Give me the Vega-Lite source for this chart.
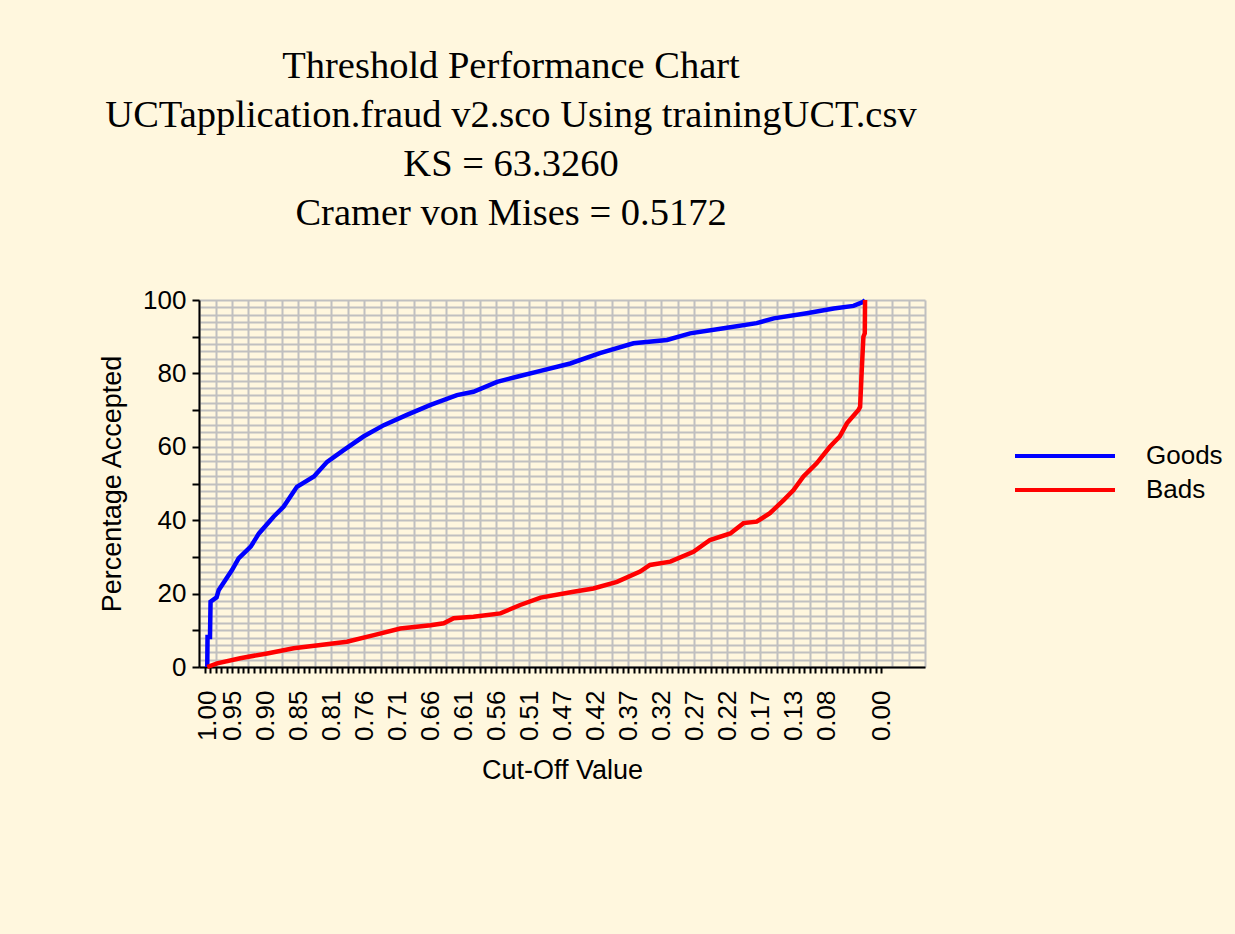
{
  "$schema": "https://vega.github.io/schema/vega-lite/v6.json",
  "width": 726,
  "height": 367,
  "autosize": {"type": "none"},
  "padding": {"left": 199, "top": 300, "right": 310, "bottom": 267},
  "background": "#FFF7DE",
  "config": {
    "view": {"stroke": null, "fill": "#FFF7DE"},
    "axis": {"labelFont": "Liberation Sans", "titleFont": "Liberation Sans", "labelColor": "#000", "titleColor": "#000", "titleFontWeight": "normal", "labelOverlap": false, "labelFlush": false, "domainColor": "#000", "tickColor": "#000"}
  },
  "title": {
    "text": ["Threshold Performance Chart", "UCTapplication.fraud v2.sco Using trainingUCT.csv", "KS = 63.3260", "Cramer von Mises = 0.5172"],
    "font": "Liberation Serif",
    "fontSize": 38.5,
    "fontWeight": "normal",
    "lineHeight": 49,
    "color": "#000",
    "anchor": "middle",
    "dx": -51,
    "offset": 54
  },
  "data": {
    "values": [
      {"u": 1.5, "pct": 0, "series": "Goods"},
      {"u": 1.55, "pct": 8.2, "series": "Goods"},
      {"u": 2.0, "pct": 8.2, "series": "Goods"},
      {"u": 2.1, "pct": 17.8, "series": "Goods"},
      {"u": 3.2, "pct": 19, "series": "Goods"},
      {"u": 3.6, "pct": 21, "series": "Goods"},
      {"u": 4.8, "pct": 23.7, "series": "Goods"},
      {"u": 6.0, "pct": 26.4, "series": "Goods"},
      {"u": 7.2, "pct": 29.6, "series": "Goods"},
      {"u": 9.4, "pct": 32.8, "series": "Goods"},
      {"u": 10.9, "pct": 36.4, "series": "Goods"},
      {"u": 13.6, "pct": 41, "series": "Goods"},
      {"u": 15.4, "pct": 43.7, "series": "Goods"},
      {"u": 17.8, "pct": 49.1, "series": "Goods"},
      {"u": 20.9, "pct": 51.9, "series": "Goods"},
      {"u": 23.3, "pct": 55.9, "series": "Goods"},
      {"u": 26.3, "pct": 59.1, "series": "Goods"},
      {"u": 29.9, "pct": 62.8, "series": "Goods"},
      {"u": 33.6, "pct": 65.9, "series": "Goods"},
      {"u": 37.8, "pct": 68.7, "series": "Goods"},
      {"u": 42.1, "pct": 71.4, "series": "Goods"},
      {"u": 46.9, "pct": 74.1, "series": "Goods"},
      {"u": 49.9, "pct": 75, "series": "Goods"},
      {"u": 54.2, "pct": 77.7, "series": "Goods"},
      {"u": 57.8, "pct": 79.1, "series": "Goods"},
      {"u": 62.1, "pct": 80.7, "series": "Goods"},
      {"u": 67.5, "pct": 82.7, "series": "Goods"},
      {"u": 72.9, "pct": 85.5, "series": "Goods"},
      {"u": 79.0, "pct": 88.2, "series": "Goods"},
      {"u": 85.1, "pct": 89.1, "series": "Goods"},
      {"u": 89.3, "pct": 90.9, "series": "Goods"},
      {"u": 95.4, "pct": 92.3, "series": "Goods"},
      {"u": 101.4, "pct": 93.7, "series": "Goods"},
      {"u": 104.5, "pct": 95, "series": "Goods"},
      {"u": 110.5, "pct": 96.4, "series": "Goods"},
      {"u": 115.4, "pct": 97.7, "series": "Goods"},
      {"u": 119.0, "pct": 98.4, "series": "Goods"},
      {"u": 120.8, "pct": 99.5, "series": "Goods"},
      {"u": 121.1, "pct": 100, "series": "Goods"},
      {"u": 1.5, "pct": 0, "series": "Bads"},
      {"u": 3.3, "pct": 1, "series": "Bads"},
      {"u": 7.5, "pct": 2.4, "series": "Bads"},
      {"u": 12.4, "pct": 3.7, "series": "Bads"},
      {"u": 17.2, "pct": 5.1, "series": "Bads"},
      {"u": 22.1, "pct": 6, "series": "Bads"},
      {"u": 26.9, "pct": 6.9, "series": "Bads"},
      {"u": 31.8, "pct": 8.7, "series": "Bads"},
      {"u": 36.6, "pct": 10.5, "series": "Bads"},
      {"u": 42.1, "pct": 11.4, "series": "Bads"},
      {"u": 44.5, "pct": 11.9, "series": "Bads"},
      {"u": 46.3, "pct": 13.3, "series": "Bads"},
      {"u": 49.9, "pct": 13.7, "series": "Bads"},
      {"u": 54.8, "pct": 14.6, "series": "Bads"},
      {"u": 58.4, "pct": 16.9, "series": "Bads"},
      {"u": 62.1, "pct": 18.9, "series": "Bads"},
      {"u": 68.1, "pct": 20.5, "series": "Bads"},
      {"u": 71.7, "pct": 21.4, "series": "Bads"},
      {"u": 76.0, "pct": 23.2, "series": "Bads"},
      {"u": 80.2, "pct": 26, "series": "Bads"},
      {"u": 82.0, "pct": 27.8, "series": "Bads"},
      {"u": 85.7, "pct": 28.7, "series": "Bads"},
      {"u": 89.9, "pct": 31.4, "series": "Bads"},
      {"u": 92.9, "pct": 34.6, "series": "Bads"},
      {"u": 96.6, "pct": 36.4, "series": "Bads"},
      {"u": 99.0, "pct": 39.2, "series": "Bads"},
      {"u": 101.4, "pct": 39.6, "series": "Bads"},
      {"u": 103.8, "pct": 41.9, "series": "Bads"},
      {"u": 106.3, "pct": 45.5, "series": "Bads"},
      {"u": 108.1, "pct": 48.2, "series": "Bads"},
      {"u": 109.9, "pct": 51.9, "series": "Bads"},
      {"u": 112.3, "pct": 55.5, "series": "Bads"},
      {"u": 114.7, "pct": 60, "series": "Bads"},
      {"u": 116.5, "pct": 62.8, "series": "Bads"},
      {"u": 117.8, "pct": 66.4, "series": "Bads"},
      {"u": 119.9, "pct": 70, "series": "Bads"},
      {"u": 120.2, "pct": 70.9, "series": "Bads"},
      {"u": 120.5, "pct": 80.9, "series": "Bads"},
      {"u": 120.8, "pct": 90, "series": "Bads"},
      {"u": 121.05, "pct": 90.9, "series": "Bads"},
      {"u": 121.1, "pct": 100, "series": "Bads"}
    ]
  },
  "resolve": {"axis": {"x": "independent", "y": "independent"}},
  "layer": [
    {
      "mark": {"type": "line", "strokeWidth": 4.5, "interpolate": "linear"},
      "encoding": {
        "x": {"field": "u", "type": "quantitative", "scale": {"domain": [0, 132], "nice": false, "zero": false},
          "axis": {"orient": "bottom", "values": [0,3,6,9,12,15,18,21,24,27,30,33,36,39,42,45,48,51,54,57,60,63,66,69,72,75,78,81,84,87,90,93,96,99,102,105,108,111,114,117,120,123,126,129,132], "grid": true, "gridColor": "#C0C0C0", "gridWidth": 2, "gridOpacity": 1, "ticks": false, "labels": false, "domain": false, "title": null}},
        "y": {"field": "pct", "type": "quantitative", "scale": {"domain": [0, 100], "nice": false},
          "axis": {"orient": "left", "tickCount": 50, "grid": true, "gridColor": "#C0C0C0", "gridWidth": 2, "gridOpacity": 1, "ticks": false, "labels": false, "domain": false, "title": null}},
        "color": {"field": "series", "type": "nominal", "sort": ["Goods", "Bads"],
          "scale": {"domain": ["Goods", "Bads"], "range": ["#0000FF", "#FF0000"]},
          "legend": {"orient": "none", "legendX": 814, "legendY": 143, "title": null, "padding": 0, "symbolType": "stroke", "symbolSize": 10000, "symbolStrokeWidth": 4, "symbolOffset": 0, "clipHeight": 26, "rowPadding": 8, "labelOffset": 29, "labelFont": "Liberation Sans", "labelFontSize": 26, "labelColor": "#000"}}
      }
    },
    {
      "mark": {"type": "point", "opacity": 0},
      "encoding": {
        "x": {"field": "u", "type": "quantitative", "scale": {"domain": [0, 132], "nice": false, "zero": false},
          "axis": {"orient": "bottom", "values": [1,2,3,4,5,6,7,8,9,10,11,12,13,14,15,16,17,18,19,20,21,22,23,24,25,26,27,28,29,30,31,32,33,34,35,36,37,38,39,40,41,42,43,44,45,46,47,48,49,50,51,52,53,54,55,56,57,58,59,60,61,62,63,64,65,66,67,68,69,70,71,72,73,74,75,76,77,78,79,80,81,82,83,84,85,86,87,88,89,90,91,92,93,94,95,96,97,98,99,100,101,102,103,104,105,106,107,108,109,110,111,112,113,114,115,116,117,118,119,120,121,122,123,124], "grid": false, "ticks": true, "tickSize": 6, "tickWidth": 2, "labels": false, "domain": true, "domainWidth": 2, "title": null}},
        "y": {"field": "pct", "type": "quantitative", "scale": {"domain": [0, 100], "nice": false},
          "axis": {"orient": "left", "values": [0,10,20,30,40,50,60,70,80,90,100], "labelExpr": "datum.value % 20 == 0 ? datum.label : ''", "grid": false, "ticks": true, "tickSize": 7, "tickWidth": 2, "labelPadding": 6, "labelFontSize": 26, "domain": true, "domainWidth": 2, "title": "Percentage Accepted", "titleFontSize": 27, "titlePadding": 16}}
      }
    },
    {
      "mark": {"type": "point", "opacity": 0},
      "encoding": {
        "x": {"field": "u", "type": "quantitative", "scale": {"domain": [0, 132], "nice": false, "zero": false},
          "axis": {"orient": "bottom", "values": [1.5,6,12,18,24,30,36,42,48,54,60,66,72,78,84,90,96,102,108,114,124],
            "labelExpr": "['1.00','0.95','0.90','0.85','0.81','0.76','0.71','0.66','0.61','0.56','0.51','0.47','0.42','0.37','0.32','0.27','0.22','0.17','0.13','0.08','0.00'][indexof([1.5,6,12,18,24,30,36,42,48,54,60,66,72,78,84,90,96,102,108,114,124], datum.value)]",
            "labelAngle": -90, "grid": false, "ticks": false, "domain": false, "labelPadding": 23, "labelFontSize": 26, "title": "Cut-Off Value", "titleFontSize": 27, "titlePadding": 17}},
        "y": {"field": "pct", "type": "quantitative", "scale": {"domain": [0, 100], "nice": false}, "axis": null}
      }
    }
  ]
}
